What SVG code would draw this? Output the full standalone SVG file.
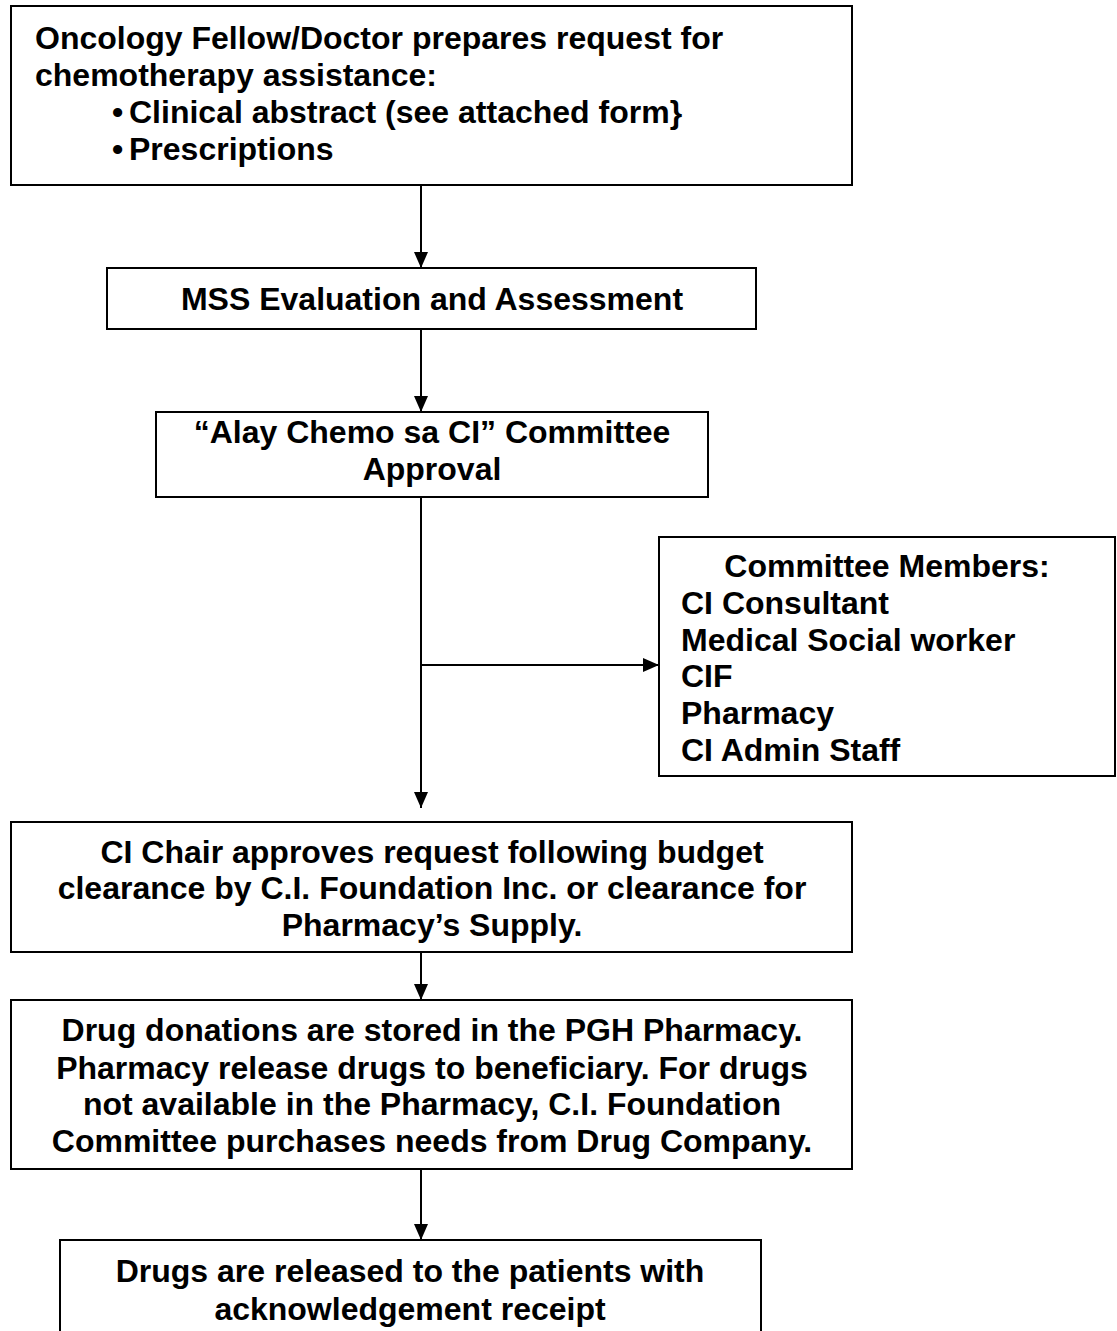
<svg xmlns="http://www.w3.org/2000/svg" width="1117" height="1331" viewBox="0 0 1117 1331">
<defs>
<style>
.box{fill:#fff;stroke:#000;stroke-width:2}
.t{font-family:"Liberation Sans",Arial,sans-serif;font-weight:bold;font-size:32px;fill:#000}
.c{text-anchor:middle}
.ln{stroke:#000;stroke-width:2;fill:none}
</style>
<marker id="ah" markerUnits="userSpaceOnUse" markerWidth="16" markerHeight="14" refX="16" refY="7" orient="auto">
<path d="M0,0 L16,7 L0,14 z" fill="#000"/>
</marker>
</defs>
<rect width="1117" height="1331" fill="#fff"/>
<g id="connectors">
<line class="ln" x1="421" y1="185" x2="421" y2="268" marker-end="url(#ah)"/>
<line class="ln" x1="421" y1="329" x2="421" y2="412" marker-end="url(#ah)"/>
<line class="ln" x1="421" y1="497" x2="421" y2="808" marker-end="url(#ah)"/>
<line class="ln" x1="421" y1="665" x2="659" y2="665" marker-end="url(#ah)"/>
<line class="ln" x1="421" y1="952" x2="421" y2="1000" marker-end="url(#ah)"/>
<line class="ln" x1="421" y1="1169" x2="421" y2="1240" marker-end="url(#ah)"/>
</g>
<g id="n1">
<rect class="box" x="11" y="6" width="841" height="179"/>
<text class="t" x="35" y="49">Oncology Fellow/Doctor prepares request for</text>
<text class="t" x="35" y="86">chemotherapy assistance:</text>
<text class="t" x="112" y="123">•</text>
<text class="t" x="129" y="123">Clinical abstract (see attached form}</text>
<text class="t" x="112" y="160">•</text>
<text class="t" x="129" y="160">Prescriptions</text>
</g>
<g id="n2">
<rect class="box" x="107" y="268" width="649" height="61"/>
<text class="t c" x="432" y="310">MSS Evaluation and Assessment</text>
</g>
<g id="n3">
<rect class="box" x="156" y="412" width="552" height="85"/>
<text class="t c" x="432" y="443">“Alay Chemo sa CI” Committee</text>
<text class="t c" x="432" y="480">Approval</text>
</g>
<g id="n4">
<rect class="box" x="659" y="537" width="456" height="239"/>
<text class="t c" x="887" y="577">Committee Members:</text>
<text class="t" x="681" y="614">CI Consultant</text>
<text class="t" x="681" y="651">Medical Social worker</text>
<text class="t" x="681" y="687">CIF</text>
<text class="t" x="681" y="724">Pharmacy</text>
<text class="t" x="681" y="761">CI Admin Staff</text>
</g>
<g id="n5">
<rect class="box" x="11" y="822" width="841" height="130"/>
<text class="t c" x="432" y="863">CI Chair approves request following budget</text>
<text class="t c" x="432" y="899">clearance by C.I. Foundation Inc. or clearance for</text>
<text class="t c" x="432" y="936">Pharmacy’s Supply.</text>
</g>
<g id="n6">
<rect class="box" x="11" y="1000" width="841" height="169"/>
<text class="t c" x="432" y="1041">Drug donations are stored in the PGH Pharmacy.</text>
<text class="t c" x="432" y="1079">Pharmacy release drugs to beneficiary. For drugs</text>
<text class="t c" x="432" y="1115">not available in the Pharmacy, C.I. Foundation</text>
<text class="t c" x="432" y="1152">Committee purchases needs from Drug Company.</text>
</g>
<g id="n7">
<rect class="box" x="60" y="1240" width="701" height="100"/>
<text class="t c" x="410" y="1282">Drugs are released to the patients with</text>
<text class="t c" x="410" y="1320">acknowledgement receipt</text>
</g>
</svg>
